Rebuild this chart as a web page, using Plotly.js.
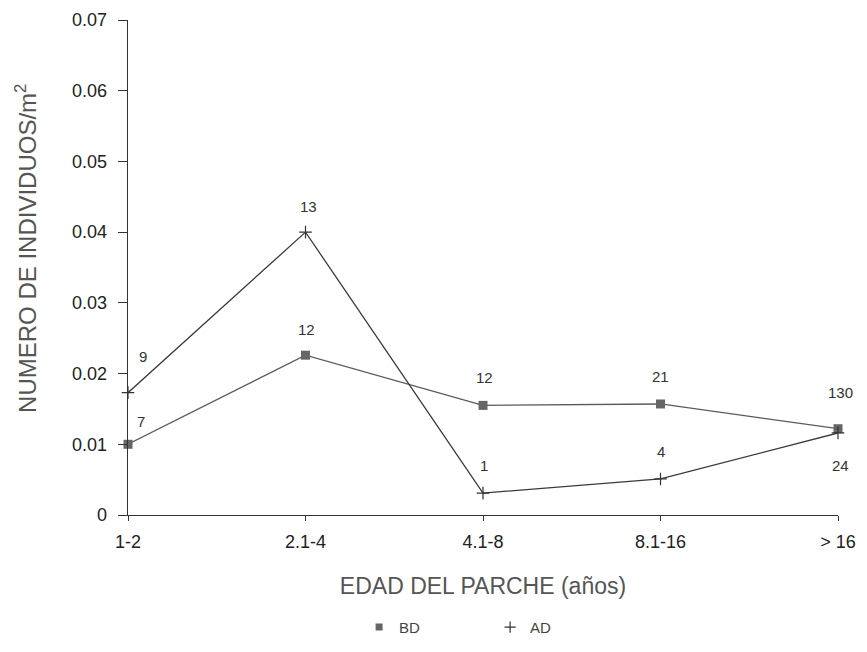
<!DOCTYPE html>
<html>
<head>
<meta charset="utf-8">
<script src="https://cdn.plot.ly/plotly-3.0.1.min.js"></script>
<style>
  html, body { margin: 0; padding: 0; background: #fff; }
  #chart { width: 867px; height: 652px; }
</style>
</head>
<body>
<div id="chart"></div>
<script>
// Patch age classes (years)
const categories = ['1-2', '2.1-4', '4.1-8', '8.1-16', '> 16'];

// Density (individuals per m²) by patch age
const bdValues = [0.0100, 0.0226, 0.0155, 0.0157, 0.0122];
const adValues = [0.0173, 0.0400, 0.0031, 0.0051, 0.0116];

// Sample sizes printed next to each point
const bdCounts = ['7', '12', '12', '21', '130'];
const adCounts = ['9', '13', '1', '4', '24'];

const yTicks = [0, 0.01, 0.02, 0.03, 0.04, 0.05, 0.06, 0.07];
const yTickText = ['0', '0.01', '0.02', '0.03', '0.04', '0.05', '0.06', '0.07'];

const xIdx = categories.map((_, i) => i);
const font = 'Liberation Sans, Arial, sans-serif';

// Pixel offsets of each count label from its point
const bdLabelOffset = [[13, 23], [1, 26], [1, 28], [0, 27], [2, 36]];
const adLabelOffset = [[15, 36], [3, 26], [1, 28], [0, 27], [2, -33]];

const bd = {
  x: xIdx, y: bdValues, mode: 'lines+markers', name: 'BD', showlegend: false,
  line: { color: '#5a5a5a', width: 1.3 },
  marker: { symbol: 'square', size: 9, color: '#666' },
  cliponaxis: false
};
const ad = {
  x: xIdx, y: adValues, mode: 'lines+markers', name: 'AD', showlegend: false,
  line: { color: '#3a3a3a', width: 1.3 },
  marker: { symbol: 'cross-thin-open', size: 9, color: '#333', line: { width: 1.2, color: '#333' } },
  cliponaxis: false
};
// Legend entries shown as symbol only
const bdKey = { x: [null], y: [null], mode: 'markers', name: 'BD',
  marker: { symbol: 'square', size: 7, color: '#666' } };
const adKey = { x: [null], y: [null], mode: 'markers', name: 'AD',
  marker: { symbol: 'cross-thin-open', size: 8, color: '#333', line: { width: 1.2, color: '#333' } } };

function countLabels(values, counts, offsets) {
  return values.map((v, i) => ({
    x: xIdx[i], y: v, xref: 'x', yref: 'y', text: counts[i], showarrow: false,
    xshift: offsets[i][0], yshift: offsets[i][1],
    font: { family: font, size: 15, color: '#333' }
  }));
}

const annotations = [
  ...countLabels(bdValues, bdCounts, bdLabelOffset),
  ...countLabels(adValues, adCounts, adLabelOffset),
  {
    xref: 'paper', yref: 'paper', x: -0.144, y: 0.539, xanchor: 'center', yanchor: 'middle',
    text: 'NUMERO DE INDIVIDUOS/m<sup>2</sup>', textangle: -90, showarrow: false,
    font: { family: font, size: 24, color: '#555' }
  }
];

const layout = {
  width: 867, height: 652,
  margin: { l: 128, r: 29, t: 20, b: 137, autoexpand: false },
  paper_bgcolor: '#fff', plot_bgcolor: '#fff',
  font: { family: font, color: '#333', size: 13 },
  showlegend: true,
  legend: {
    orientation: 'h', x: 0.3255, xanchor: 'left', y: -0.227, yanchor: 'middle',
    font: { family: font, size: 15, color: '#444' }, itemwidth: 30,
    entrywidth: 86, entrywidthmode: 'pixels', tracegroupgap: 0
  },
  annotations: annotations,
  xaxis: {
    range: [0, 4], tickvals: xIdx, ticktext: categories, automargin: false,
    showgrid: false, zeroline: false, showline: true, linecolor: '#333', linewidth: 1.3,
    ticks: 'outside', ticklen: 5, tickcolor: '#333', ticklabelstandoff: 5,
    tickfont: { family: font, size: 18, color: '#222' },
    title: { text: 'EDAD DEL PARCHE (años)', font: { family: font, size: 23, color: '#555' }, standoff: 27 }
  },
  yaxis: {
    range: [0, 0.07], tickvals: yTicks, ticktext: yTickText, automargin: false,
    showgrid: false, zeroline: false, showline: true, linecolor: '#333', linewidth: 1.3,
    ticks: 'outside', ticklen: 9, tickcolor: '#333', ticklabelstandoff: 7,
    tickfont: { family: font, size: 18, color: '#222' }
  }
};

Plotly.newPlot('chart', [bd, ad, bdKey, adKey], layout, { displayModeBar: false, staticPlot: true });
</script>
</body>
</html>
